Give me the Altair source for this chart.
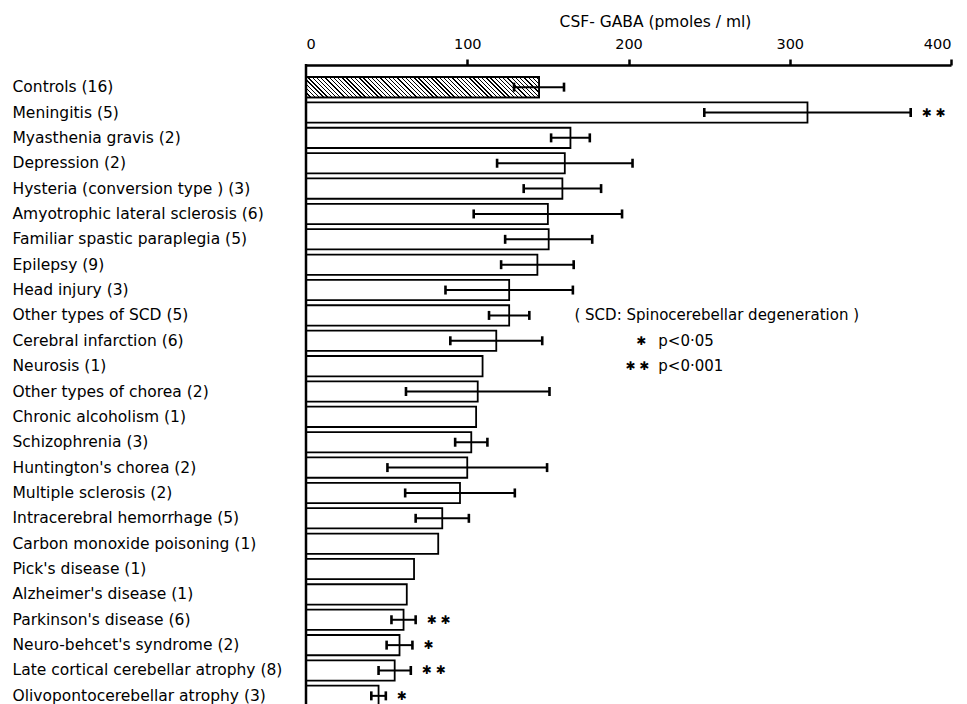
import altair as alt
import pandas as pd

labels = [
    "Controls (16)", "Meningitis (5)", "Myasthenia gravis (2)", "Depression (2)",
    "Hysteria (conversion type ) (3)", "Amyotrophic lateral sclerosis (6)",
    "Familiar spastic paraplegia (5)", "Epilepsy (9)", "Head injury (3)",
    "Other types of SCD (5)", "Cerebral infarction (6)", "Neurosis (1)",
    "Other types of chorea (2)", "Chronic alcoholism (1)", "Schizophrenia (3)",
    "Huntington's chorea (2)", "Multiple sclerosis (2)", "Intracerebral hemorrhage (5)",
    "Carbon monoxide poisoning (1)", "Pick's disease (1)", "Alzheimer's disease (1)",
    "Parkinson's disease (6)", "Neuro-behcet's syndrome (2)",
    "Late cortical cerebellar atrophy (8)", "Olivopontocerebellar atrophy (3)",
]
means = [144.5, 311, 164, 160.5, 159, 150, 150.5, 143.5, 126, 126, 118, 109.5,
         106.5, 105.5, 102.5, 100, 95.5, 84.5, 82, 67, 62.5, 60.5, 58, 55, 45]
sds = [15.5, 64, 12, 42, 24, 46, 27, 22.5, 39.5, 12.5, 28.5, None, 44.5, None,
       10, 49.5, 34, 16.5, None, None, None, 7.5, 8, 10, 4.5]
sig = ["", "**", "", "", "", "", "", "", "", "", "", "", "", "", "", "", "", "",
       "", "", "", "**", "*", "**", "*"]

df = pd.DataFrame({"label": labels, "mean": means, "sd": sds, "sig": sig})

W = 645          # plot width (0..400)
H = 629          # plot height
FONT = "DejaVu Sans"
AX_OFF = 12

step = H / (len(labels) - 0.2)
band = 0.8 * step

# diagonal hatch for the control bar (as a striped linear gradient)
bar_w = means[0] * W / 400.0
r = band / bar_w
k = 1.1
n_str = int(round(bar_w * k * (1 + r * r) / 4.2))
stops = []
f = 0.32
for i in range(n_str):
    a = i / n_str
    b = (i + f) / n_str
    c = (i + 1) / n_str
    stops += [
        alt.GradientStop(offset=a, color="black"),
        alt.GradientStop(offset=b, color="black"),
        alt.GradientStop(offset=min(b + 0.0001, 1), color="white"),
        alt.GradientStop(offset=c, color="white"),
    ]
hatch = alt.LinearGradient(gradient="linear", stops=stops,
                           x1=0, y1=1, x2=k, y2=1 - k * r)

base = alt.Chart(df)

y_enc = alt.Y(
    "label:N", sort=labels,
    scale=alt.Scale(paddingInner=0.2, paddingOuter=0),
    axis=alt.Axis(title=None, domain=False, ticks=False, tickSize=0,
                  labelAlign="left", labelPadding=294, labelLimit=400,
                  labelFont=FONT, labelFontSize=15.5, labelColor="black",
                  labelBaseline="middle"),
)
x_scale = alt.Scale(domain=[0, 400], nice=False, zero=True)
x_enc = alt.X(
    "mean:Q", scale=x_scale,
    axis=alt.Axis(orient="top", values=[0, 100, 200, 300, 400], offset=AX_OFF,
                  title="CSF- GABA (pmoles / ml)", titleFont=FONT, titleFontSize=15.5,
                  titleFontWeight="normal", titleColor="black", titlePadding=7,
                  titleX=349, titleAlign="center",
                  labelFont=FONT, labelFontSize=14.5, labelColor="black", labelPadding=8,
                  tickSize=6, tickWidth=2.5, tickColor="black",
                  tickOpacity={"expr": "datum.value == 0 ? 0 : 1"},
                  domainColor="black", domainWidth=2.5, grid=False),
)

bars = base.mark_bar(fill="white", stroke="black", strokeWidth=1.8).encode(
    x=x_enc, y=y_enc)

ctrl = base.transform_filter(alt.datum.label == labels[0]).mark_bar(
    fill=hatch, stroke="black", strokeWidth=1.8).encode(x="mean:Q", y=alt.Y("label:N", sort=labels))

err_base = base.transform_filter("isValid(datum.sd)").transform_calculate(
    lo="datum.mean - datum.sd", hi="datum.mean + datum.sd")

err = err_base.mark_rule(color="black", strokeWidth=2).encode(
    x="lo:Q", x2="hi:Q", y=alt.Y("label:N", sort=labels))
cap_lo = err_base.mark_tick(color="black", thickness=2.6, size=9, opacity=1).encode(
    x="lo:Q", y=alt.Y("label:N", sort=labels))
cap_hi = err_base.mark_tick(color="black", thickness=2.6, size=9, opacity=1).encode(
    x="hi:Q", y=alt.Y("label:N", sort=labels))

stars = base.transform_filter("datum.sig != ''").transform_calculate(
    hi="datum.mean + datum.sd",
    st="datum.sig == '**' ? '✱ ✱' : '✱'",
).mark_text(align="left", baseline="middle", dx=11, font=FONT, fontSize=12,
            color="black").encode(x="hi:Q", y=alt.Y("label:N", sort=labels), text="st:N")

def note(txt, xv, row, align="left", size=15):
    return alt.Chart(df).transform_filter(alt.datum.label == labels[0]).mark_text(
        align=align, baseline="middle", font=FONT, fontSize=size, color="black").encode(
        x=alt.datum(xv), y=alt.datum(row), text=alt.value(txt))

notes = [
    note("( SCD: Spinocerebellar degeneration )", 166.5, labels[9]),
    note("✱", 208.0, labels[10], align="center", size=12),
    note("p<0·05", 218.5, labels[10]),
    note("✱ ✱", 205.5, labels[11], align="center", size=12),
    note("p<0·001", 218.5, labels[11]),
]

left_line = alt.Chart(df).transform_filter(alt.datum.label == labels[0]).mark_rule(
    color="black", strokeWidth=2.5).encode(
    x=alt.datum(0), y=alt.value(-AX_OFF - 1), y2=alt.value(H + 2))

chart = alt.layer(bars, ctrl, err, cap_lo, cap_hi, stars, *notes, left_line).properties(
    width=W, height=H,
    padding={"left": 4, "top": 6, "right": 2, "bottom": 0},
).configure(background="white", view=alt.ViewConfig(stroke=None))

chart.save("out.html", embed_options={"renderer": "svg", "actions": False})
